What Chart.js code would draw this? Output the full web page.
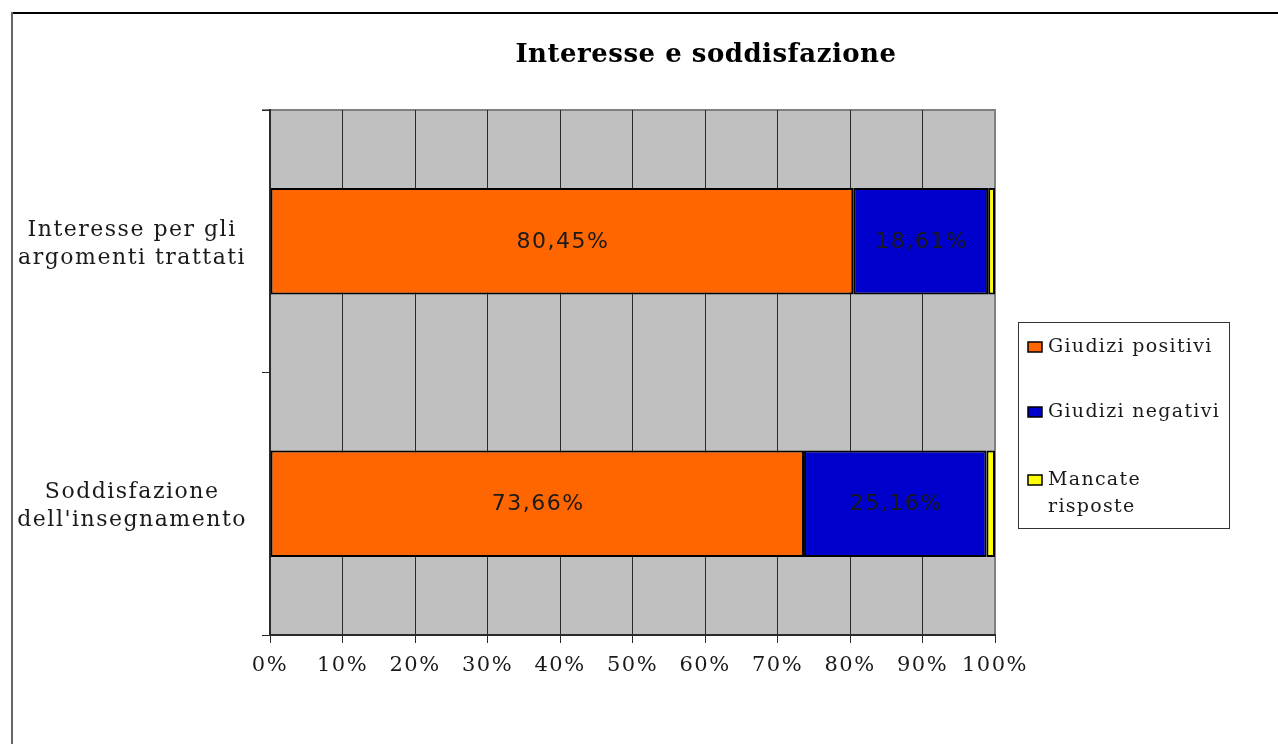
<!DOCTYPE html>
<html>
<head>
<meta charset="utf-8">
<title>Interesse e soddisfazione</title>
<script src="https://cdn.jsdelivr.net/npm/chart.js@4"></script>
<style>
    html, body { margin: 0; padding: 0; background: #ffffff; }
    #myChart { display: block; }
</style>
</head>
<body>
<canvas id="myChart" width="1278" height="744"></canvas>
<script>
const ctx = document.getElementById('myChart').getContext('2d');

// categories and values (percent)
const categories = [['Interesse per gli', 'argomenti trattati'], ['Soddisfazione', "dell'insegnamento"]];
const positivi = [80.45, 73.66];
const negativi = [18.61, 25.16];
const mancate = [0.94, 1.18];
const seriesNames = ['Giudizi positivi', 'Giudizi negativi', ['Mancate', 'risposte']];
const seriesColors = ['#FF6600', '#0000CC', '#FFFF00'];
const xTicks = [0, 10, 20, 30, 40, 50, 60, 70, 80, 90, 100];

const chartTitle = 'Interesse e soddisfazione';

// format like 80,45%
function formatPercent(value) {
    return value.toFixed(2).replace('.', ',') + '%';
}

// axis text is set a bit wider than normal
const wideText = {
    id: 'wideText',
    beforeLayout(chart) { chart.ctx.letterSpacing = '1.5px'; },
    beforeDraw(chart) { chart.ctx.letterSpacing = '1.5px'; }
};

// gray plot background with a thin gray frame
const plotBackground = {
    id: 'plotBackground',
    beforeDraw(chart) {
        const { ctx, chartArea: a } = chart;
        ctx.save();
        ctx.fillStyle = '#C0C0C0';
        ctx.fillRect(a.left, a.top, a.right - a.left, a.bottom - a.top);
        ctx.strokeStyle = '#808080';
        ctx.lineWidth = 2;
        ctx.beginPath();
        ctx.moveTo(a.left - 8, a.top);
        ctx.lineTo(a.right, a.top);
        ctx.lineTo(a.right, a.bottom);
        ctx.stroke();
        ctx.restore();
    }
};

// value labels inside the orange and blue bars
const barLabels = {
    id: 'barLabels',
    afterDatasetsDraw(chart) {
        const ctx = chart.ctx;
        ctx.save();
        ctx.letterSpacing = '1.5px';
        ctx.font = '22px "DejaVu Sans"';
        ctx.fillStyle = '#1a1a1a';
        ctx.textAlign = 'center';
        ctx.textBaseline = 'middle';
        [0, 1].forEach(di => {
            const meta = chart.getDatasetMeta(di);
            meta.data.forEach((bar, i) => {
                const p = bar.getCenterPoint();
                ctx.fillText(formatPercent(chart.data.datasets[di].data[i]), p.x + 1, p.y + 1);
            });
        });
        ctx.restore();
    }
};

// title, legend box and outer frame
const decorations = {
    id: 'decorations',
    afterDraw(chart) {
        const ctx = chart.ctx;
        const a = chart.chartArea;
        ctx.save();

        // outer frame (top and left edges)
        ctx.strokeStyle = '#000000';
        ctx.lineWidth = 2;
        ctx.beginPath();
        ctx.moveTo(11, 13);
        ctx.lineTo(1278, 13);
        ctx.stroke();
        ctx.strokeStyle = '#666666';
        ctx.beginPath();
        ctx.moveTo(12, 12);
        ctx.lineTo(12, 744);
        ctx.stroke();

        // title
        ctx.letterSpacing = '0.5px';
        ctx.fillStyle = '#000000';
        ctx.font = 'bold 26px "DejaVu Serif"';
        ctx.textAlign = 'center';
        ctx.textBaseline = 'middle';
        ctx.fillText(chartTitle, 706, 55);

        // legend
        const lx = a.right + 23, ly = 322, lw = 211, lh = 206;
        ctx.strokeStyle = '#333333';
        ctx.lineWidth = 1;
        ctx.strokeRect(lx + 0.5, ly + 0.5, lw, lh);
        const rows = [347, 412, 480];
        ctx.letterSpacing = '1.3px';
        ctx.font = '19px "DejaVu Serif"';
        ctx.textAlign = 'left';
        chart.data.datasets.forEach((ds, i) => {
            const y = rows[i];
            ctx.fillStyle = ds.backgroundColor;
            ctx.fillRect(lx + 10, y - 5, 14, 10);
            ctx.strokeStyle = '#000000';
            ctx.lineWidth = 1.5;
            ctx.strokeRect(lx + 10, y - 5, 14, 10);
            ctx.fillStyle = '#1a1a1a';
            const lines = Array.isArray(ds.label) ? ds.label : [ds.label];
            lines.forEach((t, k) => ctx.fillText(t, lx + 30, y + k * 27));
        });

        ctx.restore();
    }
};

function makeDataset(label, data, color) {
    return {
        label: label,
        data: data,
        backgroundColor: color,
        borderColor: '#000000',
        borderWidth: 2,
        borderSkipped: false,
        barPercentage: 1,
        categoryPercentage: 0.405
    };
}

const myChart = new Chart(ctx, {
    type: 'bar',
    data: {
        labels: categories,
        datasets: [
            makeDataset(seriesNames[0], positivi, seriesColors[0]),
            makeDataset(seriesNames[1], negativi, seriesColors[1]),
            makeDataset(seriesNames[2], mancate, seriesColors[2])
        ]
    },
    options: {
        indexAxis: 'y',
        responsive: false,
        animation: false,
        layout: {
            padding: { left: 0, top: 110, right: 283, bottom: 0 }
        },
        plugins: {
            legend: { display: false },
            title: { display: false },
            tooltip: { enabled: false }
        },
        scales: {
            x: {
                stacked: true,
                min: 0,
                max: 100,
                afterFit(scale) { scale.height = 109; },
                afterBuildTicks(scale) {
                    scale.ticks = xTicks.map(v => ({ value: v }));
                },
                grid: {
                    color: c => (c.index === 10 ? '#808080' : '#2a2a2a'),
                    lineWidth: 1,
                    tickLength: 8,
                    tickColor: '#2a2a2a'
                },
                border: { color: '#2a2a2a', width: 2 },
                ticks: {
                    padding: 10,
                    maxRotation: 0,
                    minRotation: 0,
                    autoSkip: false,
                    color: '#1a1a1a',
                    font: { family: 'DejaVu Serif', size: 21 },
                    callback: v => v + '%'
                }
            },
            y: {
                stacked: true,
                afterFit(scale) { scale.width = 270; },
                grid: {
                    drawOnChartArea: false,
                    tickLength: 8,
                    tickColor: '#2a2a2a'
                },
                border: { color: '#2a2a2a', width: 2 },
                ticks: {
                    padding: 15,
                    labelOffset: 3,
                    crossAlign: 'center',
                    color: '#1a1a1a',
                    font: { family: 'DejaVu Serif', size: 22, lineHeight: 1.27 }
                }
            }
        }
    },
    plugins: [wideText, plotBackground, barLabels, decorations]
});
</script>
</body>
</html>
